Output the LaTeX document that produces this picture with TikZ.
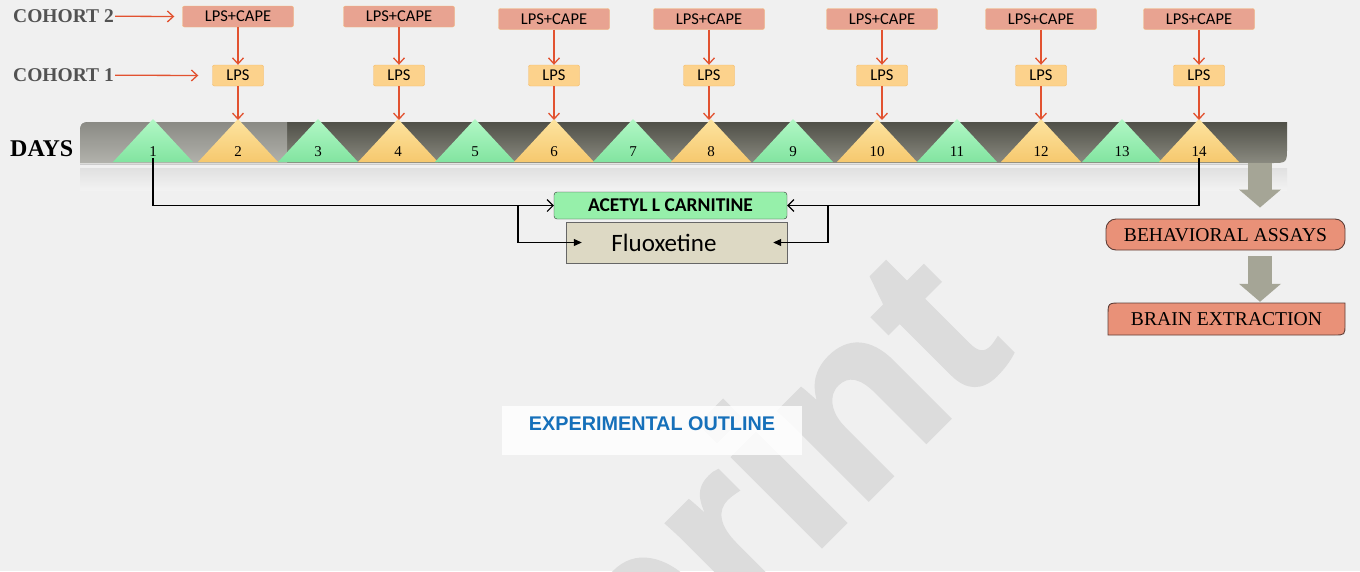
\documentclass[tikz,border=0pt]{standalone}
\usepackage{fontspec}
\setmainfont{Liberation Serif}
\newfontfamily\calib{Carlito}
\newfontfamily\arialf{Liberation Sans}
\newfontfamily\wmf{Liberation Sans}[BoldFeatures={FakeBold=1.5}]
\usetikzlibrary{arrows.meta,calc}
\definecolor{bgc}{RGB}{240,240,240}
\definecolor{wmc}{RGB}{220,220,220}
\definecolor{capeF}{RGB}{232,163,145}
\definecolor{capeB}{RGB}{245,185,120}
\definecolor{lpsF}{RGB}{252,210,140}
\definecolor{lpsB}{RGB}{245,185,100}
\definecolor{redc}{RGB}{226,82,48}
\definecolor{g1}{RGB}{178,248,198}
\definecolor{g2}{RGB}{130,228,160}
\definecolor{y1}{RGB}{253,228,160}
\definecolor{y2}{RGB}{246,200,110}
\definecolor{barT}{RGB}{80,80,72}
\definecolor{barB}{RGB}{138,138,128}
\definecolor{barLT}{RGB}{138,138,132}
\definecolor{barLB}{RGB}{178,178,172}
\definecolor{aclF}{RGB}{150,240,170}
\definecolor{fluF}{RGB}{221,217,196}
\definecolor{salF}{RGB}{233,145,120}
\definecolor{salB}{RGB}{95,62,55}
\definecolor{garc}{RGB}{165,165,150}
\definecolor{garl}{RGB}{185,185,172}
\definecolor{bluec}{RGB}{22,112,186}
\definecolor{cohc}{RGB}{82,82,82}
\tikzset{
  capebox/.style={draw=capeB, fill=capeF, rounded corners=2pt, minimum width=111pt, minimum height=21pt, inner sep=0pt, font=\calib\fontsize{16.5}{16.5}\selectfont},
  lpsbox/.style={draw=lpsB, fill=lpsF, rounded corners=2pt, minimum width=51pt, minimum height=21pt, inner sep=0pt, font=\calib\fontsize{16.5}{16.5}\selectfont},
  redarr/.style={draw=redc, line width=1.3pt, -{Straight Barb[length=6pt,width=11pt]}},
  cohort/.style={text=cohc, font=\bfseries\fontsize{19.5}{19.5}\selectfont, inner sep=1pt},
  daynum/.style={font=\fontsize{15}{15}\selectfont, inner sep=1pt},
  conn/.style={draw=black, line width=1.1pt},
  openhead/.style={-{Straight Barb[length=6pt,width=12pt]}},
  fillhead/.style={-{Triangle[length=8pt,width=7pt]}},
  aclbox/.style={draw=black!80, fill=aclF, rounded corners=3pt, minimum width=233pt, minimum height=27pt, inner sep=0pt, font=\calib\bfseries\fontsize{19.5}{19.5}\selectfont},
  flubox/.style={draw=black!60, fill=fluF, minimum width=221pt, minimum height=41pt, inner sep=0pt},
  blockarr/.style={draw=garc, line width=24pt, -{Triangle[length=18pt,width=41pt]}},
  salbox/.style={draw=salB, fill=salF, line width=0.9pt},
  saltext/.style={font=\fontsize{19.6}{19.6}\selectfont, inner sep=0pt}
}
\begin{document}
\begin{tikzpicture}[x=1pt,y=-1pt]
\useasboundingbox (0,0) rectangle (1360,571);
\fill[bgc] (0,0) rectangle (1360,571);
\begin{scope}
  \clip (0,0) rectangle (1360,571);
  \node[rotate=45, anchor=base east, inner sep=0pt, text=wmc, font=\wmf\bfseries\fontsize{238}{238}\selectfont] (wm) at (1016,352) {Preprint};
\end{scope}

% timeline bar
\shade[top color=barT, bottom color=barB] (80,163) -- (80,138) .. controls (80,122) .. (96,122) -- (1287,122) -- (1287,147) .. controls (1287,163) .. (1271,163) -- cycle;
\shade[top color=barLT, bottom color=barLB] (80,163) -- (80,138) .. controls (80,122) .. (96,122) -- (287,122) -- (287,163) -- cycle;
\draw[black!20, line width=1pt] (80,164) -- (1271,164);
\shade[top color=black!12, bottom color=black!5] (80,168) rectangle (1287,190);

% day triangles
\foreach \cx/\n/\col in {153/1/g, 238/2/y, 318/3/g, 398/4/y, 475/5/g, 554/6/y, 633/7/g, 711/8/y, 793/9/g, 877/10/y, 957/11/g, 1041/12/y, 1122/13/g, 1199/14/y}{
  \shade[top color=\col1, bottom color=\col2] (\cx-40,162) -- (\cx,119) -- (\cx+40,162) -- cycle;
  \node[daynum] (d\n) at (\cx,152) {\n};
}
\node[anchor=west, font=\bfseries\fontsize{24}{24}\selectfont, inner sep=1pt] (days) at (9,149) {DAYS};

% treatments
\foreach \cx/\cy/\i in {238/16.5/1, 399/16.5/2, 554/19/3, 709/19/4, 882/19/5, 1041/19/6, 1199/19/7}{
  \node[capebox] (c\i) at (\cx,\cy) {LPS+CAPE};
  \node[lpsbox] (l\i) at (\cx,75.5) {LPS};
  \draw[redarr] (c\i) -- (l\i);
  \coordinate (a\i) at (\cx,120);
  \draw[redarr] (l\i) -- (a\i);
}
\node[cohort, anchor=west] (co2) at (12,16) {COHORT 2};
\node[cohort, anchor=west] (co1) at (12,75) {COHORT 1};
\draw[redarr] (co2) -- ($(c1.west)+(-8,0)$);
\draw[redarr] (co1) -- ($(l1.west)+(-14,0)$);

% drugs
\node[aclbox] (acl) at (670.5,205.5) {ACETYL L CARNITINE};
\node[flubox] (flu) at (676.5,242.5) {};
\node[font=\calib\fontsize{25}{25}\selectfont, inner sep=0pt] (flut) at (664,243) {Fluoxetine};
\coordinate (bl) at (518,205.5);
\coordinate (br) at (828,205.5);
\draw[conn, openhead] (d1.south) |- (acl.west);
\draw[conn, openhead] (d14.south) |- (acl.east);
\draw[conn, fillhead] (bl) |- ($(flu.west)+(16,0)$);
\draw[conn, fillhead] (br) |- ($(flu.east)+(-14,0)$);

% outcome boxes
\node[salbox, rounded corners=10pt, minimum width=239pt, minimum height=31pt, inner sep=0pt] (ba) at (1225.5,234.5) {};
\node[saltext] (bat) at (1225.5,235.5) {BEHAVIORAL ASSAYS};
\filldraw[salbox] (1108,335) -- (1108,316) .. controls (1108,303) .. (1121,303) -- (1345,303) -- (1345,324) .. controls (1345,335) .. (1334,335) -- cycle;
\node[saltext, minimum width=237pt, minimum height=32pt] (be) at (1226.5,319) {BRAIN EXTRACTION};
\coordinate (barend) at (1260,163);
\draw[blockarr] (barend) -- ($(ba.north)+(34.5,-11)$);
\draw[blockarr] ($(ba.south)+(34.5,6)$) -- ($(be.north)+(33.5,-1)$);

% title
\node[fill=white, fill opacity=0.85, minimum width=300pt, minimum height=49pt, inner sep=0pt] (eob) at (652,430.5) {};
\node[text=bluec, font=\arialf\bfseries\fontsize{19.8}{19.8}\selectfont, inner sep=0pt] (eo) at (652,424) {EXPERIMENTAL OUTLINE};
\end{tikzpicture}
\end{document}
